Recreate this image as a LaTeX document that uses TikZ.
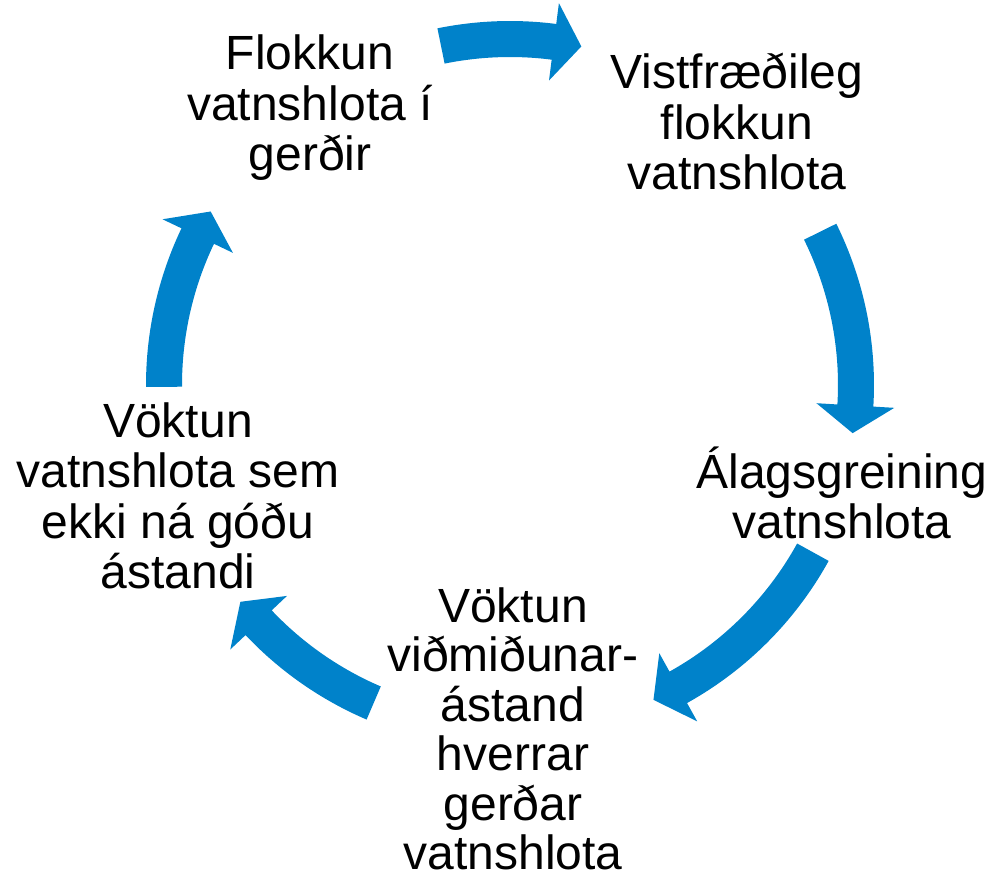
\documentclass[tikz,border=0pt]{standalone}
\usepackage{fontspec}
\setmainfont{Liberation Sans}
\definecolor{cycblue}{RGB}{0,130,202}
\begin{document}
\begin{tikzpicture}[x=1pt,y=-1pt,every node/.style={font=\fontsize{48}{50.5}\selectfont,align=center,inner sep=0pt}]
\useasboundingbox (0,0) rectangle (997,879);
\node (gerdir) at (310,108) {Flokkun\\vatnshlota í\\gerðir};
\node (vistfr) at (737,121.5) {Vistfræðileg\\flokkun\\vatnshlota};
\node (alag) at (842,493) {Álagsgreining\\vatnshlota};
\node[font=\fontsize{48}{49.5}\selectfont] (vidmid) at (513,729) {Vöktun\\viðmiðunar-\\ástand\\hverrar\\gerðar\\vatnshlota};
\node (voktun) at (178,496) {Vöktun\\vatnshlota sem\\ekki ná góðu\\ástandi};
% block arrows of the cycle, tail angle / head angle
\begin{scope}[shift={(510,385)}]
\foreach \a/\b in {258.5/277.3,-26.3/3.4,28.9/60.9,113.2/136.6,179.7/205.5}
  \fill[cycblue] (\a:364) arc[start angle=\a,end angle=\b,radius=364] -- (\b:385) -- ({\b+4.6}:346) -- (\b:307) -- (\b:328) arc[start angle=\b,end angle=\a,radius=328] -- cycle;
\end{scope}
\end{tikzpicture}
\end{document}
